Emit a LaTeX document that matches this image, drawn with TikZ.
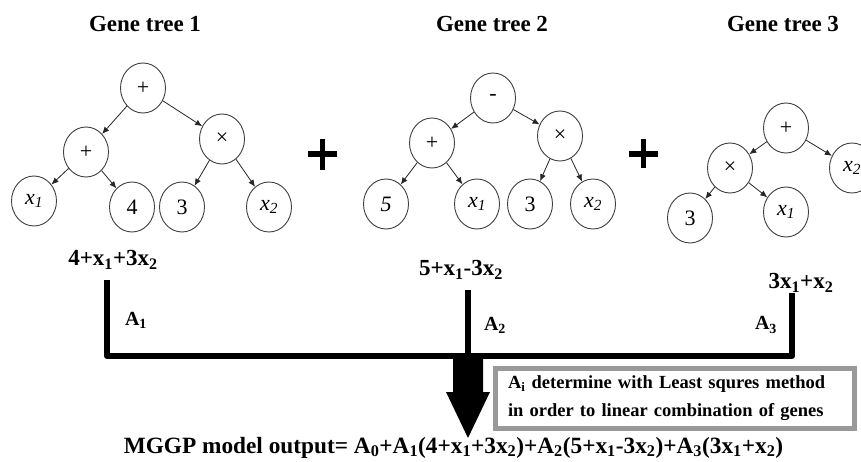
\documentclass[tikz,border=0pt]{standalone}
\usepackage{fontspec}
\setmainfont{Liberation Serif}
\usetikzlibrary{shapes.geometric,arrows.meta}
\newcommand{\tvar}[1]{\textit{x}\textsubscript{\textit{#1}}}
\newcommand{\xs}[1]{x\textsubscript{#1}}
\begin{document}
\begin{tikzpicture}[x=1pt,y=-1pt,
  tn/.style={ellipse,draw=black!75,line width=0.9pt,minimum width=45pt,minimum height=50pt,inner sep=0pt,font=\fontsize{22}{24}\selectfont},
  te/.style={draw=black!85,line width=0.8pt,-{Latex[length=7pt,width=6pt]}},
  gtitle/.style={font=\fontsize{23}{26}\selectfont\bfseries,inner sep=0pt},
  expr/.style={font=\fontsize{23}{25}\selectfont\bfseries,inner sep=0pt},
  coef/.style={font=\fontsize{20}{22}\selectfont\bfseries,inner sep=0pt},
  bus/.style={line width=6pt,line join=round},
  bigplus/.style={line width=5.5pt},
  infobox/.style={draw=black!40,line width=5pt,minimum width=359pt,minimum height=60pt,inner xsep=12.5pt,inner ysep=0pt,text width=334pt,align=left,font=\fontsize{18.5}{28}\selectfont\bfseries},
  outtext/.style={font=\fontsize{23.3}{26}\selectfont\bfseries,inner sep=0pt}
]
\useasboundingbox (0,0) rectangle (861,462);
\fill[white] (0,0) rectangle (861,462);

% titles
\node[gtitle] (g1) at (145,24) {Gene tree 1};
\node[gtitle] (g2) at (492,24) {Gene tree 2};
\node[gtitle] (g3) at (783,24) {Gene tree 3};

% tree 1
\node[tn] (r1) at (143,88) {+};
\node[tn] (a1) at (86,152) {+};
\node[tn] (m1) at (222,139) {×};
\node[tn] (x11) at (34,201) {\tvar{1}};
\node[tn] (f1) at (132,207) {4};
\node[tn] (t1) at (182,207) {3};
\node[tn] (x12) at (269,207) {\tvar{2}};
\draw[te] (r1) -- (a1);
\draw[te] (r1) -- (m1);
\draw[te] (a1) -- (x11);
\draw[te] (a1) -- (f1);
\draw[te] (m1) -- (t1);
\draw[te] (m1) -- (x12);

% tree 2
\node[tn] (r2) at (493,98) {-};
\node[tn] (a2) at (432,143) {+};
\node[tn] (m2) at (560,136) {×};
\node[tn] (v2) at (386,204) {\textit{5}};
\node[tn] (x21) at (477,204) {\tvar{1}};
\node[tn] (t2) at (530,204) {3};
\node[tn] (x22) at (593,204) {\tvar{2}};
\draw[te] (r2) -- (a2);
\draw[te] (r2) -- (m2);
\draw[te] (a2) -- (v2);
\draw[te] (a2) -- (x21);
\draw[te] (m2) -- (t2);
\draw[te] (m2) -- (x22);

% tree 3
\node[tn] (r3) at (786,128) {+};
\node[tn] (m3) at (730,168) {×};
\node[tn] (x32) at (852,168) {\tvar{2}};
\node[tn] (t3) at (690,218) {3};
\node[tn] (x31) at (786,212) {\tvar{1}};
\draw[te] (r3) -- (m3);
\draw[te] (r3) -- (x32);
\draw[te] (m3) -- (t3);
\draw[te] (m3) -- (x31);

% big plus signs
\draw[bigplus] (308,154) -- (337,154) (322.5,139) -- (322.5,170);
\draw[bigplus] (629,154) -- (658,154) (643.5,139) -- (643.5,168);

% expressions
\node[expr] (e1) at (113,260) {4+\xs{1}+3\xs{2}};
\node[expr] (e2) at (461,270) {5+\xs{1}-3\xs{2}};
\node[expr] (e3) at (801,283) {3\xs{1}+\xs{2}};

% bus lines
\coordinate (b1) at (107,280);
\coordinate (b2) at (468,290);
\coordinate (b3) at (792,293);
\coordinate (c1) at (107,356);
\coordinate (c2) at (468,356);
\coordinate (c3) at (792,356);
\draw[bus] (b1) -- (c1) -- (c3) -- (b3);
\draw[bus] (b2) -- (c2);

\node[coef] (A1) at (136,320) {A\textsubscript{1}};
\node[coef] (A2) at (495,325) {A\textsubscript{2}};
\node[coef] (A3) at (766,325) {A\textsubscript{3}};

% big arrow
\fill (453,354) -- (483,354) -- (483,392) -- (490,392) -- (468,438) -- (446,392) -- (453,392) -- cycle;

% info box
\node[infobox] (box) at (675,398.5) {A\textsubscript{i} determine with Least squres method\\in order to linear combination of genes};

% output
\node[outtext] (out) at (453.5,447.5) {MGGP model output= A\textsubscript{0}+A\textsubscript{1}(4+\xs{1}+3\xs{2})+A\textsubscript{2}(5+\xs{1}-3\xs{2})+A\textsubscript{3}(3\xs{1}+\xs{2})};
\end{tikzpicture}
\end{document}
